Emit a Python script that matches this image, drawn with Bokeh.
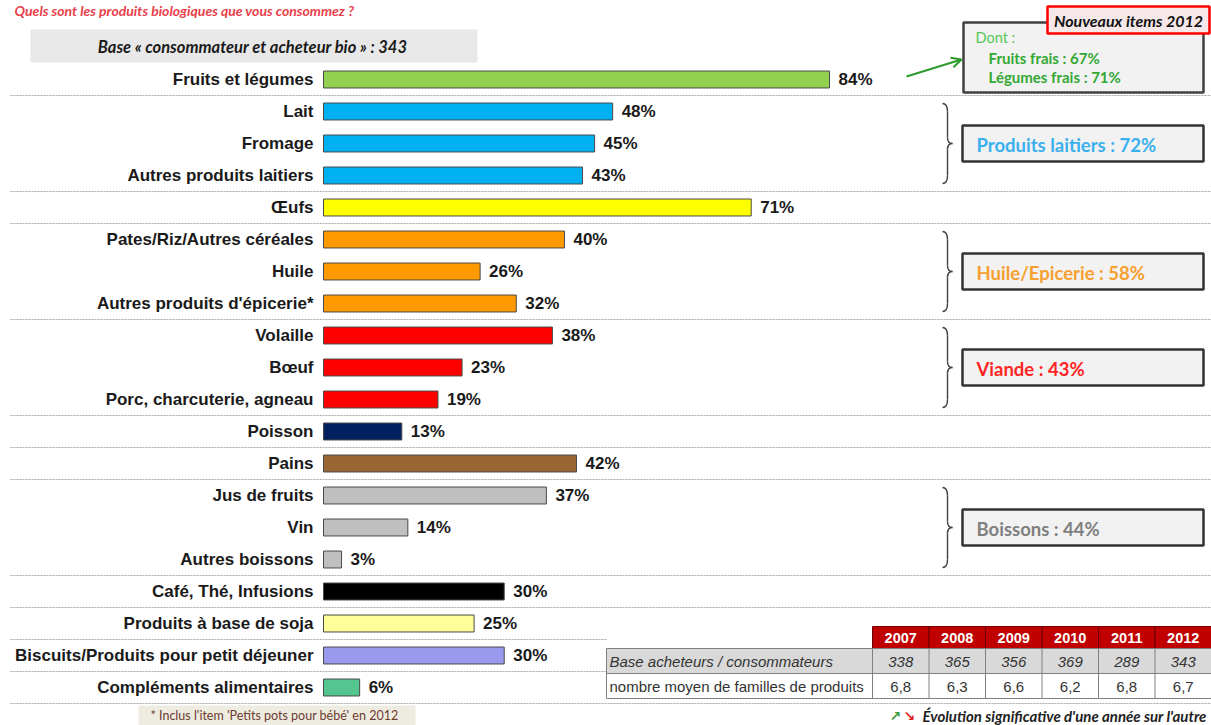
from bokeh.plotting import figure
from bokeh.models import Range1d, Arrow, OpenHead
from bokeh.core.properties import value
from bokeh.embed import file_html
from bokeh.resources import INLINE

# ---------------- data ----------------
categories = ["Fruits et légumes", "Lait", "Fromage", "Autres produits laitiers", "Œufs",
              "Pates/Riz/Autres céréales", "Huile", "Autres produits d'épicerie*",
              "Volaille", "Bœuf", "Porc, charcuterie, agneau", "Poisson", "Pains",
              "Jus de fruits", "Vin", "Autres boissons", "Café, Thé, Infusions",
              "Produits à base de soja", "Biscuits/Produits pour petit déjeuner",
              "Compléments alimentaires"]
values = [84, 48, 45, 43, 71, 40, 26, 32, 38, 23, 19, 13, 42, 37, 14, 3, 30, 25, 30, 6]
bar_colors = ["#92D050", "#00B0F0", "#00B0F0", "#00B0F0", "#FFFF00",
              "#FF9900", "#FF9900", "#FF9900", "#FF0000", "#FF0000", "#FF0000",
              "#002060", "#996633", "#BFBFBF", "#BFBFBF", "#BFBFBF", "#000000",
              "#FFFF99", "#9999EE", "#55C58F"]
separator_after = [0, 3, 4, 7, 10, 11, 12, 15, 16, 17, 18, 19]

group_labels = ["Produits laitiers : 72%", "Huile/Epicerie : 58%", "Viande : 43%", "Boissons : 44%"]
group_rows = [(1, 3), (5, 7), (8, 10), (13, 15)]
group_colors = ["#3BB0EE", "#F7A030", "#FF2424", "#7F7F7F"]

dont_items = ["Fruits frais : 67%", "Légumes frais : 71%"]

years = ["2007", "2008", "2009", "2010", "2011", "2012"]
base_values = ["338", "365", "356", "369", "289", "343"]
familles_values = ["6,8", "6,3", "6,6", "6,2", "6,8", "6,7"]
row_labels = ["Base acheteurs / consommateurs", "nombre moyen de familles de produits"]

# ---------------- geometry helpers (reference pixel -> data) ----------------
W, H = 1211, 725
S = 6.024          # px per percent
ROW = 32.0         # px per row


def X(rx):
    return (rx - 323) / S


def Y(ry):
    return (ry - 79) / ROW


p = figure(width=W, height=H, output_backend="svg", toolbar_location=None,
           x_range=Range1d(X(0), X(W)), y_range=Range1d(Y(H), Y(0)),
           x_axis_location=None, y_axis_location=None, min_border=0)
p.outline_line_color = None
p.xgrid.visible = False
p.ygrid.visible = False
p.background_fill_color = "white"

ARIAL = value("Liberation Sans")
LATO = value("Lato")

rows = list(range(len(categories)))

# title
p.text(x=[X(14)], y=[Y(10)], text=["Quels sont les produits biologiques que vous consommez ?"],
       text_font=LATO, text_font_style="bold italic", text_font_size="14px",
       text_color="#E8404A", text_baseline="middle")

# base box
p.quad(left=[X(30)], right=[X(477)], top=[Y(29)], bottom=[Y(62)],
       fill_color="#E8E8E8", line_color=None)
p.text(x=[X(254)], y=[Y(46)], text=["Base « consommateur et acheteur bio » :  343"],
       text_font=LATO, text_font_style="bold italic", text_font_size="16.5px",
       text_color="#1a1a1a", text_align="center", text_baseline="middle")

# separators
sep_y = [i + 0.5 for i in separator_after]
sep_x1 = [X(606) if i in (17, 18) else X(1211) for i in separator_after]
p.segment(x0=[X(10)] * len(sep_y), y0=sep_y, x1=sep_x1, y1=sep_y,
          line_color="#A8A8A8", line_width=1.2, line_dash="2 1")

# bars
p.hbar(y=rows, left=0, right=values, height=0.53, fill_color=bar_colors,
       line_color="#4a4a4a", line_width=1)
p.text(x=[0] * len(rows), y=rows, text=categories, x_offset=-10,
       text_font=ARIAL, text_font_style="bold", text_font_size="17px",
       text_color="#1a1a1a", text_align="right", text_baseline="middle")
p.text(x=values, y=rows, text=[f"{v}%" for v in values], x_offset=9,
       text_font=ARIAL, text_font_style="bold", text_font_size="17px",
       text_color="#1a1a1a", text_align="left", text_baseline="middle")

# "Dont" box
p.quad(left=[X(963)], right=[X(1203)], top=[Y(22)], bottom=[Y(92)],
       fill_color="#F2F2F2", line_color="#404040", line_width=2.5)
p.text(x=[X(975)], y=[Y(37)], text=["Dont :"], text_font=LATO, text_font_size="14.5px",
       text_color="#55C855", text_baseline="middle")
p.text(x=[X(988)] * 2, y=[Y(57), Y(76)], text=dont_items, text_font=LATO,
       text_font_style="bold", text_font_size="15px", text_color="#33A833",
       text_baseline="middle")

# "Nouveaux items 2012"
p.quad(left=[X(1047)], right=[X(1209)], top=[Y(6)], bottom=[Y(33)],
       fill_color="#F6E8E8", line_color="#FF0000", line_width=2.5)
p.text(x=[X(1128)], y=[Y(20)], text=["Nouveaux items 2012"], text_font=LATO,
       text_font_style="bold italic", text_font_size="16px", text_color="#111111",
       text_align="center", text_baseline="middle")

# arrow
p.add_layout(Arrow(end=OpenHead(size=10, line_color="#2E9B2E", line_width=2),
                   x_start=X(906), y_start=Y(76), x_end=X(961), y_end=Y(59),
                   line_color="#2E9B2E", line_width=2))

# group boxes and braces
for (r0, r1), lab, col in zip(group_rows, group_labels, group_colors):
    top_px = 79 + ROW * r0 - 8
    bot_px = 79 + ROW * r1 + 8
    mid_px = (top_px + bot_px) / 2
    p.quad(left=[X(962)], right=[X(1203)], top=[Y(mid_px - 18)], bottom=[Y(mid_px + 18)],
           fill_color="#F2F2F2", line_color="#333333", line_width=2.5)
    p.text(x=[X(976)], y=[Y(mid_px + 1)], text=[lab], text_font=LATO, text_font_style="bold",
           text_font_size="18.5px", text_color=col, text_baseline="middle")
    xl, xs, xt = X(942), X(947), X(952)
    p.quadratic(x0=[xl, xs, xt, xs], y0=[Y(top_px), Y(mid_px - 6), Y(mid_px), Y(bot_px - 8)],
                x1=[xs, xt, xs, xl], y1=[Y(top_px + 8), Y(mid_px), Y(mid_px + 6), Y(bot_px)],
                cx=[xs, xs, xs, xs], cy=[Y(top_px), Y(mid_px), Y(mid_px), Y(bot_px)],
                line_color="#404040", line_width=1.4)
    p.segment(x0=[xs, xs], y0=[Y(top_px + 8), Y(mid_px + 6)],
              x1=[xs, xs], y1=[Y(mid_px - 6), Y(bot_px - 8)],
              line_color="#404040", line_width=1.4)

# table
CW = (1211 - 872) / len(years)
col_left = [872 + CW * k for k in range(len(years))]
p.quad(left=[X(c) for c in col_left], right=[X(c + CW) for c in col_left],
       top=[Y(626)] * 6, bottom=[Y(648)] * 6, fill_color="#C00000",
       line_color="#6a0000", line_width=1)
p.text(x=[X(c + CW / 2) for c in col_left], y=[Y(637.5)] * 6, text=years, text_font=ARIAL,
       text_font_style="bold", text_font_size="14.5px", text_color="white",
       text_align="center", text_baseline="middle")
p.quad(left=[X(606)], right=[X(1211)], top=[Y(648)], bottom=[Y(673)],
       fill_color="#D9D9D9", line_color="#808080", line_width=1)
p.quad(left=[X(606)], right=[X(1211)], top=[Y(673)], bottom=[Y(698)],
       fill_color="white", line_color="#808080", line_width=1)
p.segment(x0=[X(c) for c in col_left], y0=[Y(648)] * 6,
          x1=[X(c) for c in col_left], y1=[Y(698)] * 6, line_color="#808080", line_width=1)
p.text(x=[X(609)], y=[Y(661)], text=[row_labels[0]], text_font=ARIAL,
       text_font_style="italic", text_font_size="15px", text_color="#333333",
       text_baseline="middle")
p.text(x=[X(609)], y=[Y(686)], text=[row_labels[1]], text_font=ARIAL,
       text_font_size="15px", text_color="#333333", text_baseline="middle")
p.text(x=[X(c + CW / 2) for c in col_left], y=[Y(661)] * 6, text=base_values, text_font=ARIAL,
       text_font_style="italic", text_font_size="15px", text_color="#333333",
       text_align="center", text_baseline="middle")
p.text(x=[X(c + CW / 2) for c in col_left], y=[Y(686)] * 6, text=familles_values,
       text_font=ARIAL, text_font_size="15px", text_color="#333333",
       text_align="center", text_baseline="middle")

# footnote
p.quad(left=[X(138)], right=[X(415)], top=[Y(705)], bottom=[Y(725)],
       fill_color="#EEECE1", line_color=None)
p.text(x=[X(150)], y=[Y(715)], text=["* Inclus l'item 'Petits pots pour bébé' en 2012"],
       text_font=LATO, text_font_size="12.5px", text_color="#6B3A2E", text_baseline="middle")

# evolution note
p.text(x=[X(889)], y=[Y(715)], text=["↗"], text_font=value("DejaVu Sans"),
       text_font_size="14px", text_font_style="bold", text_color="#3A9A3A",
       text_baseline="middle")
p.text(x=[X(903)], y=[Y(715)], text=["↘"], text_font=value("DejaVu Sans"),
       text_font_size="14px", text_font_style="bold", text_color="#E02020",
       text_baseline="middle")
p.text(x=[X(922)], y=[Y(715)], text=["Évolution significative d'une année sur l'autre"],
       text_font=LATO, text_font_style="bold italic", text_font_size="15px",
       text_color="#222222", text_baseline="middle")

open("out.html", "w").write(file_html(p, INLINE))
